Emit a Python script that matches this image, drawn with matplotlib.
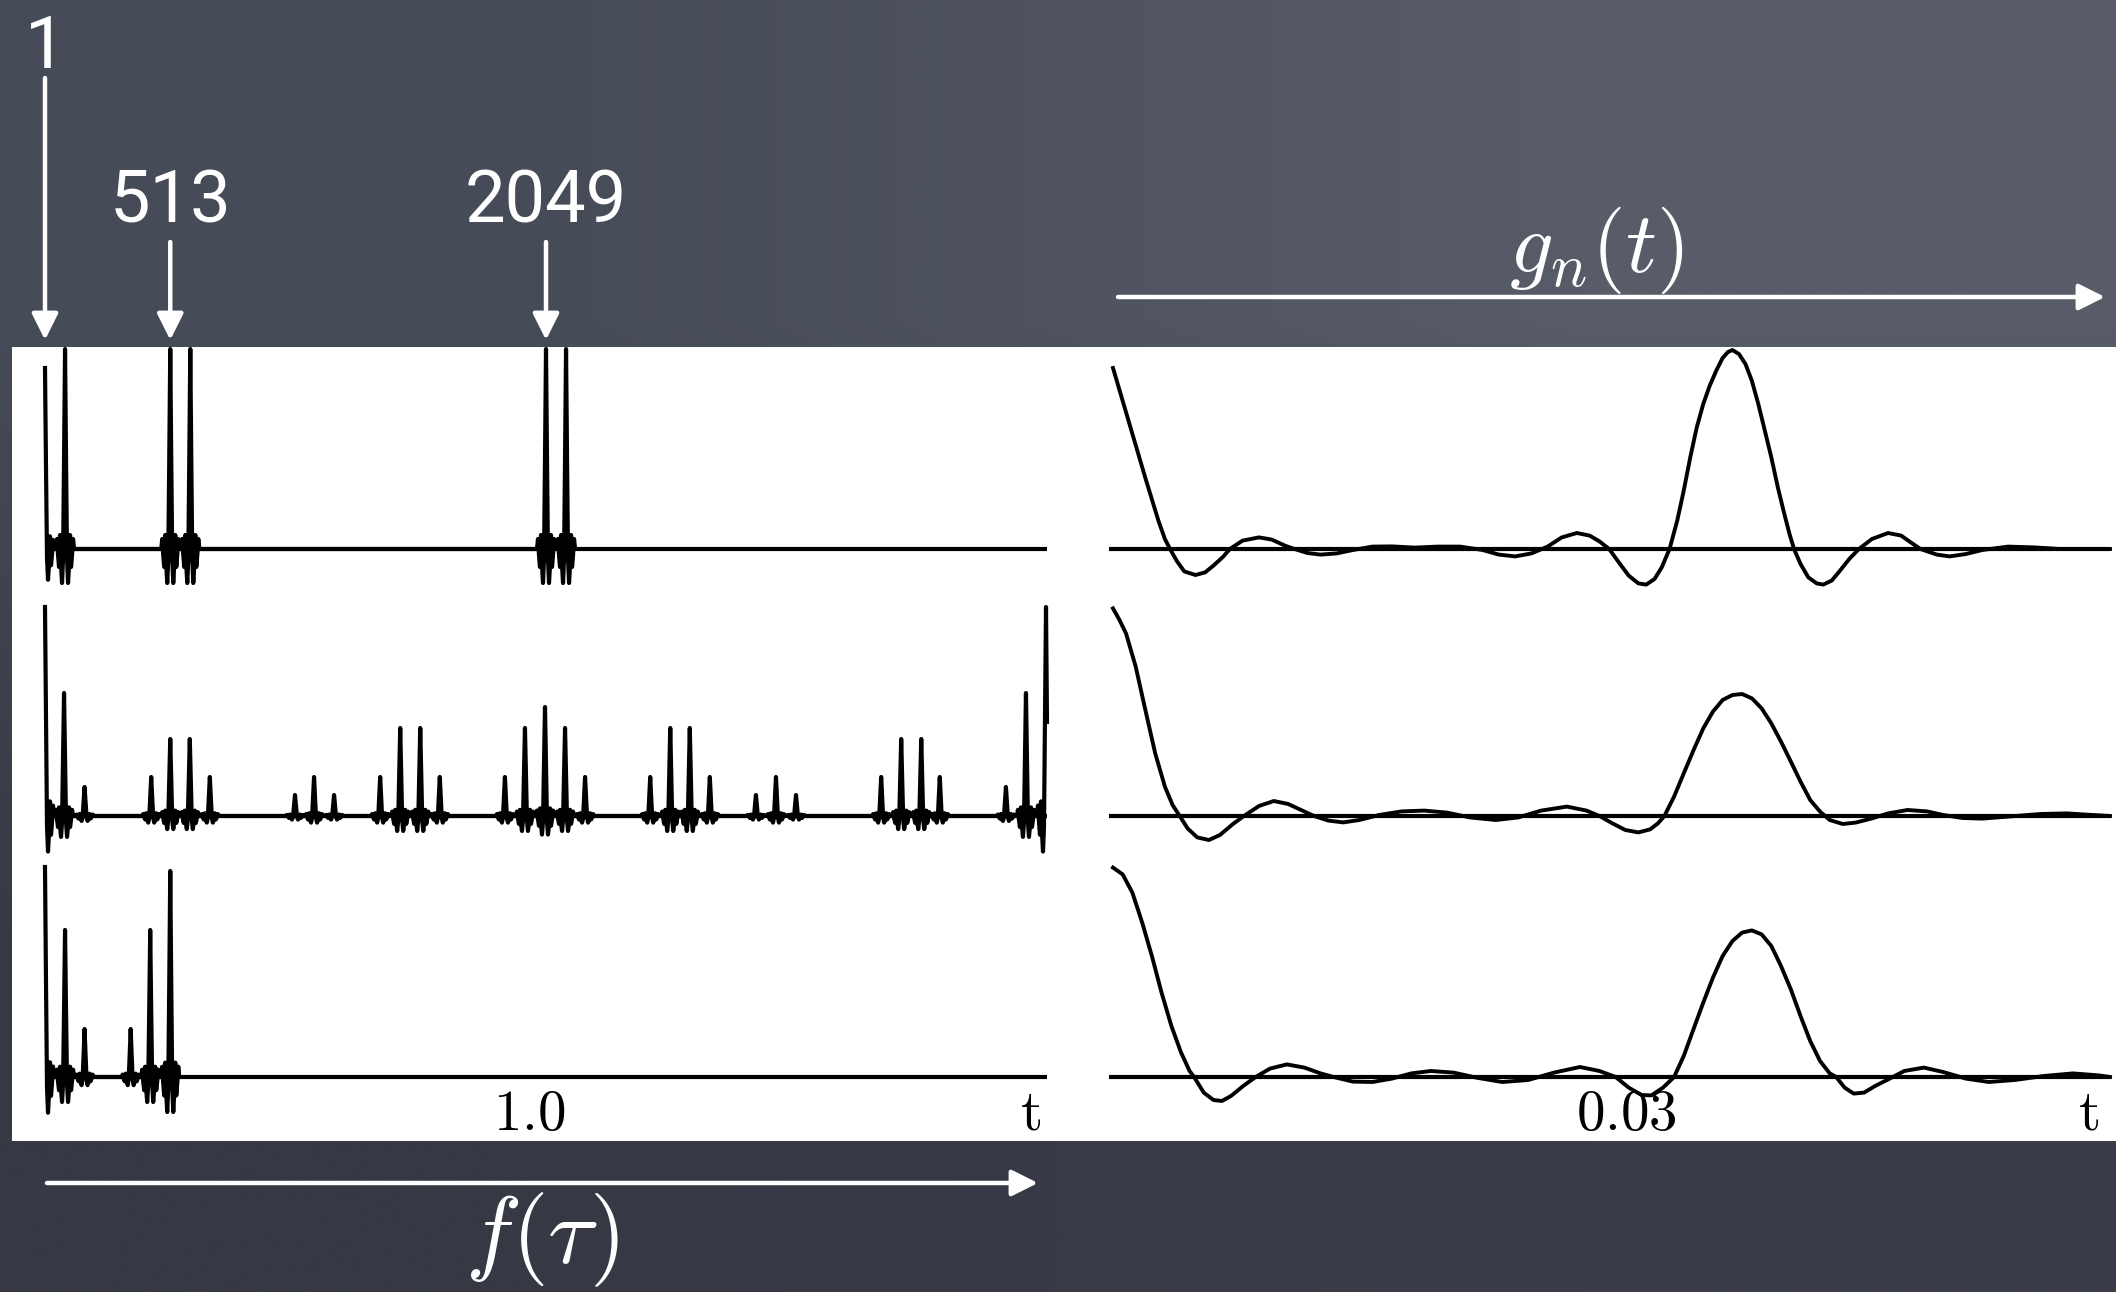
import matplotlib.pyplot as plt
import numpy as np
from matplotlib.patches import Rectangle

plt.rcParams['mathtext.fontset'] = 'cm'

W, H = 2116, 1292

# ---------------- f(tau): spike trains (t = 1.0 at sample 2049) ----------------
top_pos = [0.0, 0.04, 0.25, 0.29, 1.0, 1.04]
top_amp = [0.905, 1.0, 1.0, 1.0, 1.0, 1.0]

mid_pos = [0.0, 0.038, 0.079,
           0.212, 0.25, 0.289, 0.329,
           0.499, 0.537, 0.577,
           0.669, 0.709, 0.749, 0.788,
           0.918, 0.958, 0.998, 1.038, 1.078,
           1.208, 1.248, 1.287, 1.327,
           1.419, 1.459, 1.499,
           1.669, 1.709, 1.749, 1.786,
           1.918, 1.958, 1.998]
mid_amp = [1.045, 0.615, 0.145,
           0.195, 0.385, 0.385, 0.195,
           0.105, 0.195, 0.105,
           0.195, 0.44, 0.44, 0.195,
           0.195, 0.44, 0.545, 0.44, 0.195,
           0.195, 0.44, 0.44, 0.195,
           0.105, 0.195, 0.105,
           0.195, 0.385, 0.385, 0.195,
           0.145, 0.615, 1.045]

bot_pos = [0.0, 0.04, 0.079, 0.171, 0.21, 0.25]
bot_amp = [1.05, 0.735, 0.24, 0.24, 0.735, 1.03]

# shape of one spike: offset from the peak, value relative to the peak
pulse_dt = [0.0, 0.002, 0.004, 0.006, 0.008, 0.010, 0.012, 0.014, 0.016, 0.018]
pulse_val = [1.0, 0.45, -0.05, -0.17, -0.08, 0.07, -0.09, -0.03, 0.05, 0.0]

marker_samples = [1, 513, 2049]
marker_labels = ["1", "513", "2049"]

# ---------------- g_n(t): the three outputs, time in ms ----------------
gn_top_t = [0.24, 1.21, 2.18, 2.96, 3.35, 3.66, 4.05, 4.51, 5.18, 5.76, 6.26, 6.85,
            7.24, 8.01, 8.99, 9.76, 10.54, 11.12, 11.9, 12.68, 13.65, 14.62, 15.79,
            16.96, 18.32, 19.68, 21.04, 22.4, 23.37, 24.34, 25.32, 26.29, 27.14, 28.04,
            28.81, 29.4, 29.98, 30.56, 31.15, 31.73, 32.2, 32.7, 33.13, 33.6, 34.06,
            34.45, 34.84, 35.23, 35.62, 36.01, 36.4, 36.78, 37.1, 37.37, 37.76, 38.15,
            38.53, 38.92, 39.31, 39.7, 40.09, 40.48, 40.79, 41.06, 41.45, 41.92, 42.42,
            42.81, 43.32, 43.78, 44.37, 44.95, 45.73, 46.7, 47.48, 48.06, 48.64, 49.62,
            50.39, 51.37, 52.34, 53.89, 55.45, 57.0, 60.0]
gn_top_y = [0.905, 0.63, 0.355, 0.142, 0.05, 0.0, -0.058, -0.112, -0.13, -0.117, -0.083,
            -0.038, 0.0, 0.042, 0.058, 0.047, 0.017, 0.0, -0.02, -0.028, -0.022, -0.005,
            0.012, 0.013, 0.007, 0.012, 0.012, -0.005, -0.028, -0.037, -0.022, 0.012,
            0.058, 0.08, 0.067, 0.038, 0.0, -0.067, -0.133, -0.172, -0.178, -0.15,
            -0.092, 0.0, 0.142, 0.292, 0.458, 0.608, 0.725, 0.817, 0.892, 0.955, 0.985,
            0.995, 0.975, 0.925, 0.842, 0.725, 0.592, 0.458, 0.308, 0.175, 0.075, 0.0,
            -0.075, -0.142, -0.172, -0.178, -0.158, -0.112, -0.05, 0.0, 0.05, 0.08,
            0.067, 0.033, 0.0, -0.028, -0.037, -0.025, -0.005, 0.012, 0.008, 0.0, 0.0]

gn_mid_t = [0.24, 0.63, 1.02, 1.6, 2.18, 2.77, 3.35, 3.81, 4.24, 4.71, 5.29, 5.99, 6.65,
            7.43, 8.09, 8.99, 9.88, 10.74, 11.51, 12.29, 13.15, 14.04, 15.01, 16.18,
            17.54, 18.9, 20.26, 21.62, 23.18, 24.54, 25.9, 27.45, 28.62, 29.4, 30.18,
            30.95, 31.73, 32.43, 32.9, 33.29, 33.87, 34.45, 35.04, 35.62, 36.2, 36.78,
            37.37, 37.95, 38.54, 39.12, 39.7, 40.28, 40.87, 41.45, 42.03, 42.62, 43.2,
            43.98, 44.75, 45.73, 46.7, 47.86, 49.03, 50.0, 51.17, 52.34, 53.89, 55.84,
            57.39, 58.95, 60.0]
gn_mid_y = [1.038, 0.98, 0.913, 0.747, 0.53, 0.313, 0.147, 0.055, 0.0, -0.062, -0.107,
            -0.12, -0.095, -0.04, 0.0, 0.05, 0.075, 0.06, 0.03, 0.0, -0.023, -0.032,
            -0.02, 0.005, 0.023, 0.027, 0.017, -0.007, -0.02, -0.007, 0.027, 0.047,
            0.027, 0.0, -0.037, -0.07, -0.082, -0.067, -0.037, 0.0, 0.097, 0.213, 0.33,
            0.438, 0.522, 0.58, 0.605, 0.61, 0.588, 0.538, 0.463, 0.372, 0.272, 0.172,
            0.08, 0.022, -0.02, -0.04, -0.033, -0.012, 0.013, 0.03, 0.023, 0.005,
            -0.01, -0.013, -0.003, 0.01, 0.013, 0.005, 0.0]

gn_bot_t = [0.24, 0.82, 1.4, 1.99, 2.57, 3.15, 3.74, 4.32, 4.83, 5.1, 5.68, 6.26, 6.77,
            7.31, 8.09, 8.79, 9.65, 10.66, 11.71, 12.68, 13.46, 14.62, 15.79, 16.96,
            18.12, 19.29, 20.65, 22.01, 23.57, 25.12, 26.68, 28.23, 29.4, 30.37, 31.15,
            31.92, 32.51, 33.21, 33.87, 34.45, 35.03, 35.62, 36.2, 36.78, 37.37, 37.95,
            38.53, 39.12, 39.7, 40.28, 40.87, 41.45, 42.03, 42.62, 43.2, 43.59, 44.09,
            44.64, 45.26, 45.92, 46.7, 47.67, 48.84, 50.0, 51.36, 52.73, 54.28, 56.03,
            57.78, 59.33, 60.0]
gn_bot_y = [1.047, 1.013, 0.922, 0.772, 0.605, 0.422, 0.255, 0.122, 0.03, 0.0, -0.078,
            -0.115, -0.12, -0.095, -0.042, 0.0, 0.042, 0.063, 0.047, 0.018, 0.0, -0.023,
            -0.025, -0.008, 0.018, 0.03, 0.022, -0.003, -0.025, -0.015, 0.022, 0.05,
            0.03, 0.0, -0.053, -0.09, -0.092, -0.053, 0.0, 0.105, 0.238, 0.372, 0.497,
            0.605, 0.68, 0.722, 0.733, 0.713, 0.655, 0.555, 0.438, 0.305, 0.18, 0.08,
            0.018, 0.0, -0.053, -0.083, -0.078, -0.045, -0.012, 0.03, 0.047, 0.025,
            -0.008, -0.025, -0.015, 0.005, 0.018, 0.008, 0.0]


def spike_train(pos, amp, t_end=2.0):
    """Place the pulse shape at every spike position."""
    dt = np.array(pulse_dt)
    val = np.array(pulse_val)
    dt = np.concatenate([-dt[:0:-1], dt])
    val = np.concatenate([val[:0:-1], val])
    x = np.concatenate([p + dt for p in pos])
    y = np.concatenate([a * val for a in amp])
    keep = (x >= 0) & (x <= t_end + 1e-9)
    x, y = x[keep], y[keep]
    order = np.argsort(x, kind='stable')
    return x[order], y[order]


fig = plt.figure(figsize=(W / 100, H / 100), dpi=100)

# chalkboard background + white panel
bg = fig.add_axes([0, 0, 1, 1], zorder=-1)
board = np.array([[[70, 75, 88], [88, 92, 104]],
                  [[54, 57, 68], [58, 61, 73]]]) / 255
bg.imshow(board, extent=(0, W, H, 0), interpolation='bilinear', aspect='auto')
bg.add_patch(Rectangle((12, 347), W - 12, 1141 - 347, color='white', lw=0))
bg.set_xlim(0, W)
bg.set_ylim(H, 0)
bg.axis('off')

row_base = [549, 816, 1077]


def row_axes(x0, x1, base):
    top, bottom = base - 215, base + 55
    ax = fig.add_axes([x0 / W, 1 - bottom / H, (x1 - x0) / W, (bottom - top) / H])
    ax.set_ylim(-55 / 200, 215 / 200)
    ax.axis('off')
    return ax


left_rows = [(top_pos, top_amp), (mid_pos, mid_amp), (bot_pos, bot_amp)]
right_rows = [(gn_top_t, gn_top_y), (gn_mid_t, gn_mid_y), (gn_bot_t, gn_bot_y)]

left_axes, right_axes = [], []
for base, (pos, amp), (gt, gy) in zip(row_base, left_rows, right_rows):
    axl = row_axes(45, 1047, base)
    axl.set_xlim(0, 2.0)
    axl.plot([0, 2.0], [0, 0], color='black', lw=3.0, solid_capstyle='butt')
    sx, sy = spike_train(pos, amp)
    axl.plot(sx, sy, color='black', lw=3.0, solid_joinstyle='round', clip_on=False)
    left_axes.append(axl)

    axr = row_axes(1109, 2110, base)
    axr.set_xlim(0, 60)
    axr.plot([0, 60], [0, 0], color='black', lw=3.0, solid_capstyle='round')
    axr.plot(gt, gy, color='black', lw=2.8, solid_joinstyle='round', clip_on=False)
    right_axes.append(axr)

fp = ('data', 'figure pixels')
arrow_kw = dict(arrowstyle='-|>,head_length=0.8,head_width=0.4', mutation_scale=20,
                color='white', lw=3.2, shrinkA=0, shrinkB=0)
num_font = ['Roboto', 'DejaVu Sans']

# sample markers above the top row
label_y = [48, 203, 203]
arrow_from = [78, 242, 242]
axl = left_axes[0]
for n, lab, ly, ay in zip(marker_samples, marker_labels, label_y, arrow_from):
    t = (n - 1) / 2048
    axl.annotate('', xy=(t, H - 340), xycoords=fp, xytext=(t, H - ay), textcoords=fp,
                 arrowprops=arrow_kw, annotation_clip=False)
    axl.annotate(lab, xy=(t, H - ly), xycoords=fp, ha='center', va='center',
                 color='white', fontsize=52, family=num_font, annotation_clip=False)

# tick-like labels under the bottom row
axl = left_axes[2]
axl.annotate(r'$1.0$', xy=(0.966, H - 1130), xycoords=fp, ha='center', va='baseline',
             fontsize=41, annotation_clip=False)
axl.annotate(r'$\mathrm{t}$', xy=(1.968, H - 1130), xycoords=fp, ha='center', va='baseline',
             fontsize=41, annotation_clip=False)
axr = right_axes[2]
axr.annotate(r'$0.03$', xy=(31.0, H - 1130), xycoords=fp, ha='center', va='baseline',
             fontsize=41, annotation_clip=False)
axr.annotate(r'$\mathrm{t}$', xy=(58.7, H - 1130), xycoords=fp, ha='center', va='baseline',
             fontsize=41, annotation_clip=False)

# g_n(t) arrow and title
axr = right_axes[0]
axr.annotate('', xy=(59.7, H - 297), xycoords=fp, xytext=(0.54, H - 297), textcoords=fp,
             arrowprops=arrow_kw, annotation_clip=False)
axr.annotate(r'$g_n(t)$', xy=(29.2, H - 250), xycoords=fp, ha='center', va='center',
             color='white', fontsize=62, annotation_clip=False)

# f(tau) arrow and title
axl = left_axes[2]
axl.annotate('', xy=(1.982, H - 1183), xycoords=fp, xytext=(0.004, H - 1183), textcoords=fp,
             arrowprops=arrow_kw, annotation_clip=False)
axl.annotate(r'$f(\tau)$', xy=(0.992, H - 1240), xycoords=fp, ha='center', va='center',
             color='white', fontsize=68, annotation_clip=False)

fig.savefig('out.png', dpi=100)
